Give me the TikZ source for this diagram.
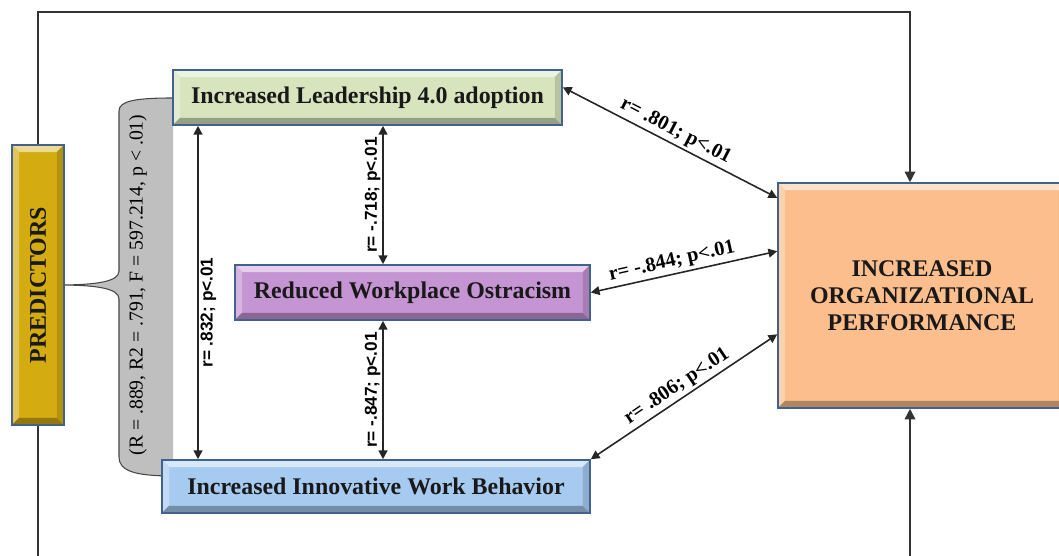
\documentclass[tikz,border=0pt]{standalone}
\usepackage{fontspec}
\setmainfont{Liberation Serif}
\newfontfamily\labfont{Liberation Sans}
\usetikzlibrary{arrows.meta, positioning}
\definecolor{leadfill}{HTML}{D7E4BD}
\definecolor{ostrfill}{HTML}{C594D2}
\definecolor{innovfill}{HTML}{A7CBF0}
\definecolor{perffill}{HTML}{FBBE8C}
\definecolor{predfill}{HTML}{D4AC12}
\definecolor{boxedge}{HTML}{41618F}

\begin{document}
\begin{tikzpicture}[
  factor/.style={draw=boxedge, line width=0.9pt, fill=#1, minimum height=1.1cm,
    font=\fontsize{13.6}{15.5}\selectfont\bfseries, text=black!90,
    path picture={
      \path (path picture bounding box.south west) coordinate (bsw)
            (path picture bounding box.north east) coordinate (bne);
      \path (bsw) ++(4pt,4pt) coordinate (isw) (bne) ++(-4pt,-4pt) coordinate (ine);
      \fill[#1!45!white] (bsw |- bne) -- (bne) -- (ine) -- (isw |- ine) -- cycle;
      \fill[#1!70!white] (bsw |- bne) -- (isw |- ine) -- (isw) -- (bsw) -- cycle;
      \fill[#1!70!black] (bsw) -- (isw) -- (ine |- isw) -- (bne |- bsw) -- cycle;
      \fill[#1!85!black] (bne) -- (bne |- bsw) -- (ine |- isw) -- (ine) -- cycle;
    }},
  rel/.style={{Triangle[length=5pt,width=5pt]}-{Triangle[length=5pt,width=5pt]},
    line width=0.9pt, draw=black!85},
  feed/.style={-{Triangle[length=6pt,width=6pt]}, line width=0.9pt, draw=black!80},
  vlab/.style={font=\labfont\fontsize{9.8}{11}\selectfont\bfseries, inner sep=1pt},
  dlab/.style={font=\fontsize{11.6}{13}\selectfont\bfseries, inner sep=1.5pt}]
  \useasboundingbox (0,0) rectangle (21.18,11.12);
  \clip (0,0) rectangle (21.18,11.12);

  \node[factor=predfill, minimum width=1.04cm, minimum height=5.6cm] (pred) at (0.76,5.42) {\rotatebox{90}{PREDICTORS}};

  % brace round the three predictors
  \fill[gray!50] (3.46,9.16) .. controls (2.7,9.16) and (2.38,9.1) .. (2.38,8.9)
    -- (2.38,5.7) .. controls (2.38,5.48) and (1.9,5.43) .. (pred.east)
    .. controls (1.9,5.41) and (2.38,5.36) .. (2.38,5.14)
    -- (2.38,1.98) .. controls (2.38,1.7) and (2.7,1.6) .. (3.46,1.6) -- cycle;
  \draw[gray!55!black, line width=0.6pt] (3.46,9.16) .. controls (2.7,9.16) and (2.38,9.1) .. (2.38,8.9)
    -- (2.38,5.7) .. controls (2.38,5.48) and (1.9,5.43) .. (pred.east)
    .. controls (1.9,5.41) and (2.38,5.36) .. (2.38,5.14)
    -- (2.38,1.98) .. controls (2.38,1.7) and (2.7,1.6) .. (3.46,1.6);
  \node[rotate=90, font=\fontsize{11.2}{13}\selectfont] (stats) at (2.76,5.42) {(R = .889, R2 = .791, F = 597.214, p < .01)};

  \node[factor=leadfill, minimum width=7.78cm] (lead) at (7.35,9.17) {Increased Leadership 4.0 adoption};
  \node[factor=ostrfill, minimum width=7.1cm] (ostr) at (8.25,5.27) {Reduced Workplace Ostracism};
  \node[factor=innovfill, minimum width=8.56cm, minimum height=1.06cm] (innov) at (7.52,1.39) {Increased Innovative Work Behavior};
  \node[factor=perffill, minimum width=5.76cm, minimum height=4.5cm, align=center] (perf) at (18.44,5.21) {INCREASED\\ORGANIZATIONAL\\PERFORMANCE};

  \coordinate (c1) at (3.96,0);
  \coordinate (c2) at (7.66,0);
  \draw[rel] (innov.north -| c1) -- node[vlab, below, sloped, pos=0.44] {r= .832; p<.01} (lead.south -| c1);
  \draw[rel] (ostr.north -| c2) -- node[vlab, above, sloped] {r= -.718; p<.01} (lead.south -| c2);
  \draw[rel] (innov.north -| c2) -- node[vlab, above, sloped] {r= -.847; p<.01} (ostr.south -| c2);

  \draw[rel] (lead.3) -- node[dlab, above, sloped] {r= .801; p<.01} (perf.146.4);
  \draw[rel] (ostr.east) -- node[dlab, above, sloped, pos=0.45] {r= -.844; p<.01} (perf.163.6);
  \draw[rel] (innov.north east) -- node[dlab, above, sloped] {r= .806; p<.01} (perf.195.3);

  \coordinate (tl) at (0.76,10.88);
  \coordinate (tr) at (18.2,10.88);
  \coordinate (bl) at (0.76,-0.6);
  \coordinate (br) at (18.2,-0.6);
  \draw[feed] (pred.north) -- (tl) -- (tr) -- (tr |- perf.north);
  \draw[feed] (pred.south) -- (bl) -- (br) -- (br |- perf.south);
\end{tikzpicture}
\end{document}
